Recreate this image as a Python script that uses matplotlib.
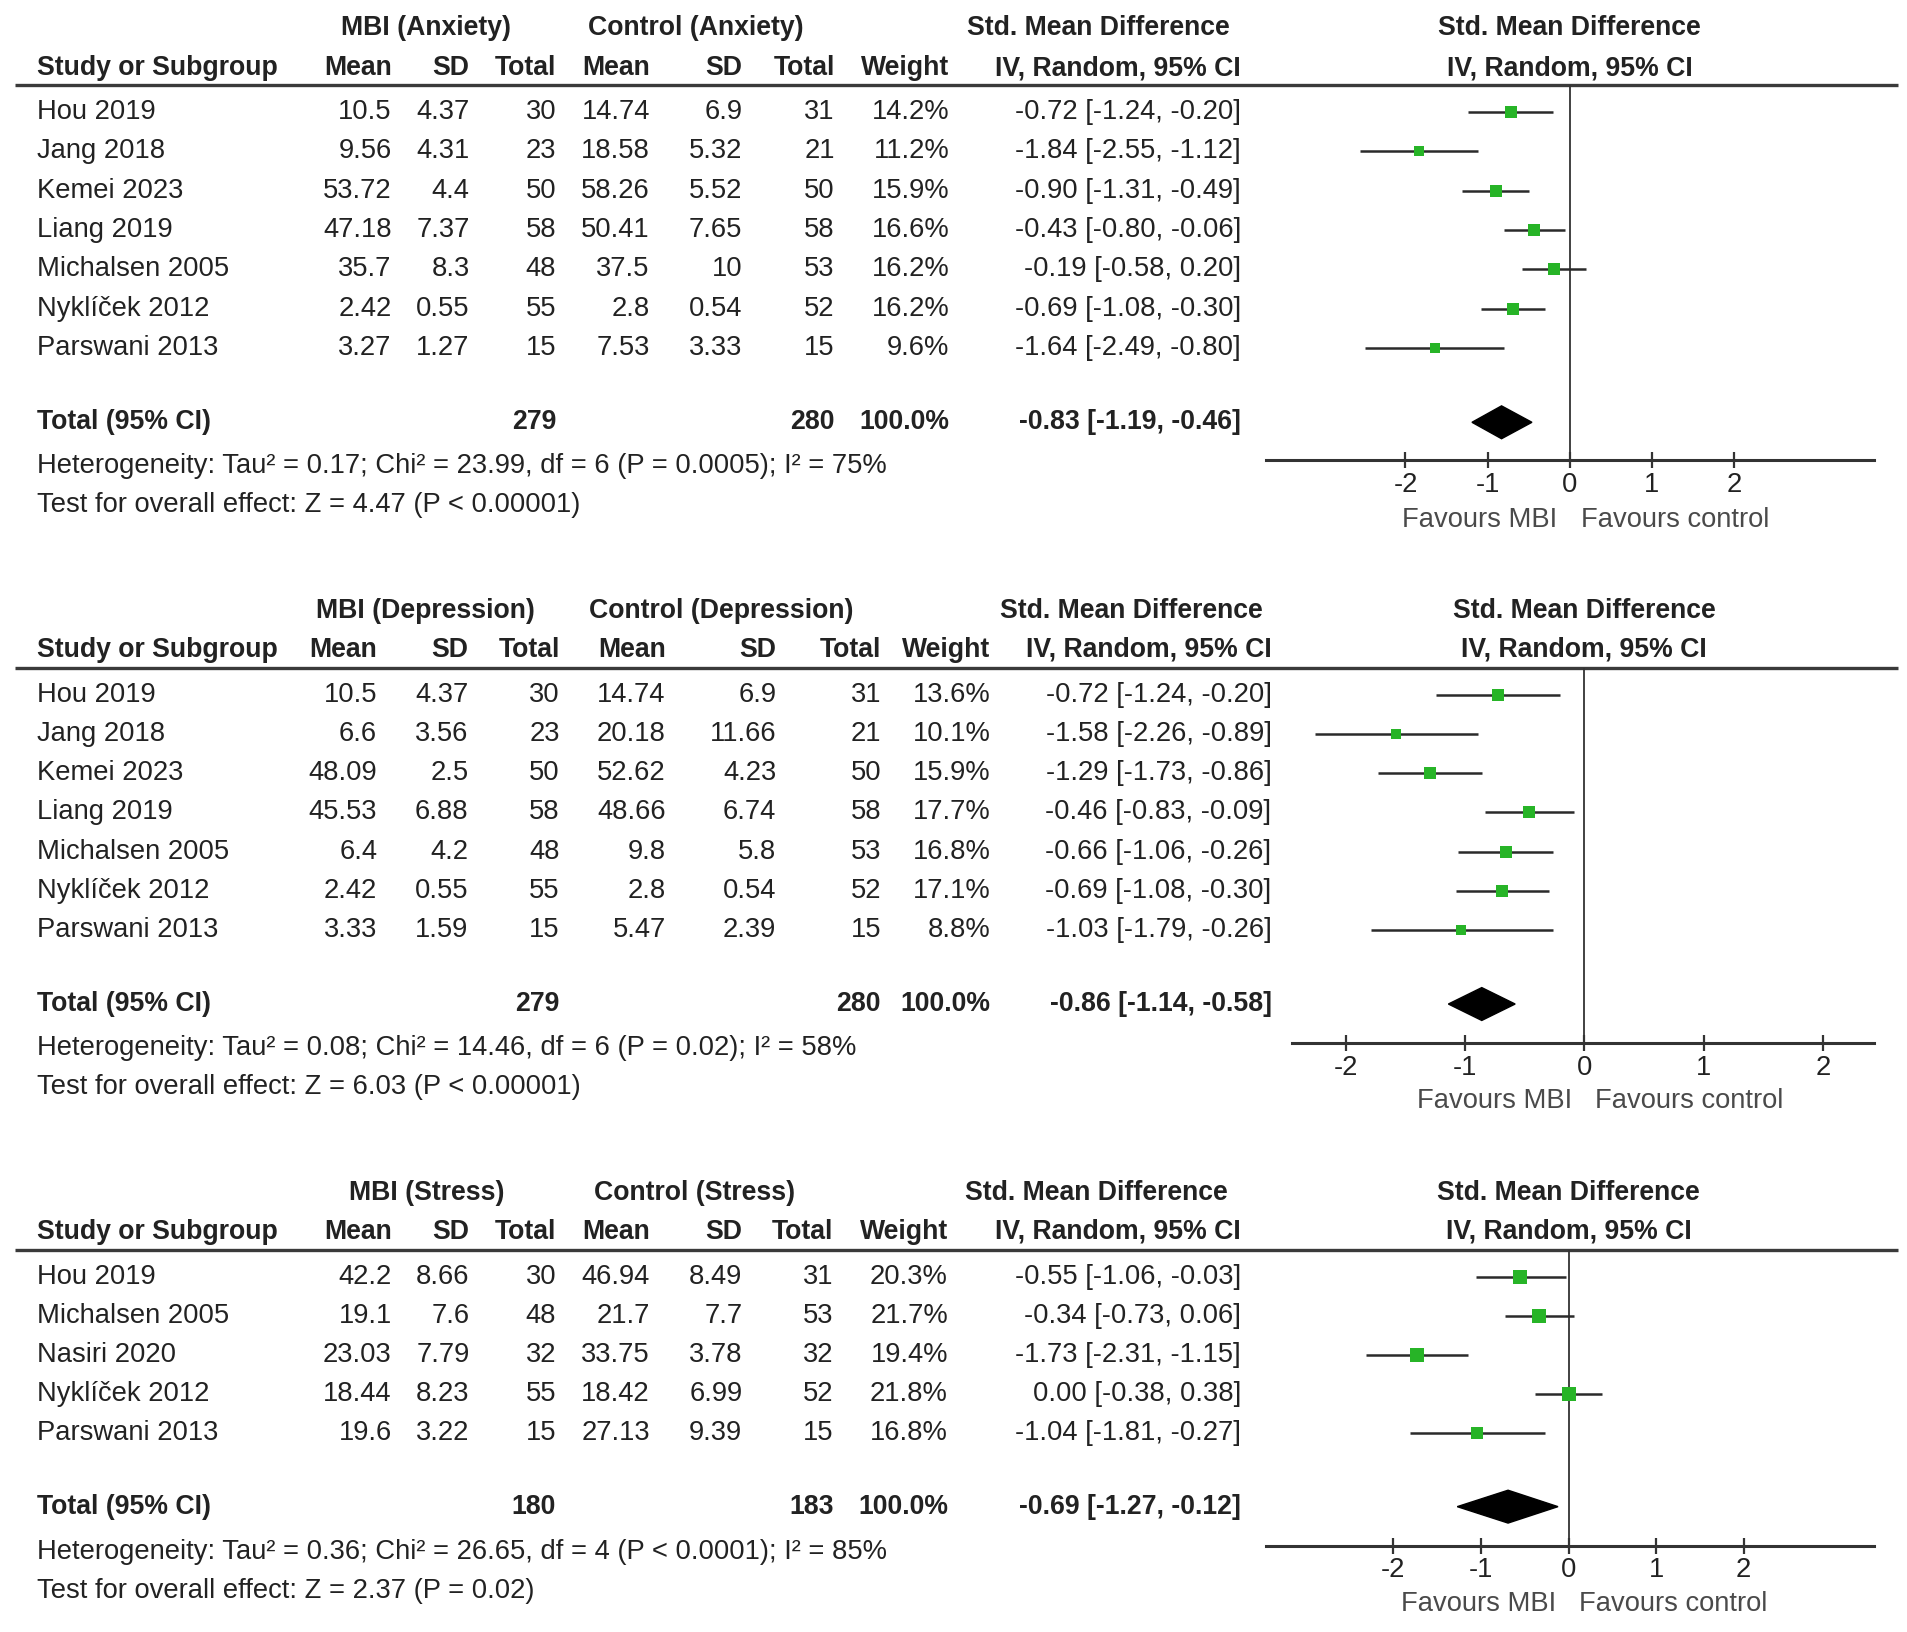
import numpy as np
import matplotlib.pyplot as plt

plt.rcParams['font.family'] = ['Liberation Sans', 'DejaVu Sans']

# layout units of the reference (scaled to the 1908x1632 output)
W, H = 1568, 1341
FS = 19.7
FS_BOLD = 19.2
TXT = '#222222'
GREEN = '#27b427'

# ---------------- data ----------------
# Anxiety
anx_studies = ['Hou 2019', 'Jang 2018', 'Kemei 2023', 'Liang 2019',
               'Michalsen 2005', 'Nyklíček 2012', 'Parswani 2013']
anx_mbi_mean = ['10.5', '9.56', '53.72', '47.18', '35.7', '2.42', '3.27']
anx_mbi_sd = ['4.37', '4.31', '4.4', '7.37', '8.3', '0.55', '1.27']
anx_mbi_n = [30, 23, 50, 58, 48, 55, 15]
anx_ctl_mean = ['14.74', '18.58', '58.26', '50.41', '37.5', '2.8', '7.53']
anx_ctl_sd = ['6.9', '5.32', '5.52', '7.65', '10', '0.54', '3.33']
anx_ctl_n = [31, 21, 50, 58, 53, 52, 15]
anx_weight = [14.2, 11.2, 15.9, 16.6, 16.2, 16.2, 9.6]
anx_smd = [-0.72, -1.84, -0.90, -0.43, -0.19, -0.69, -1.64]
anx_lo = [-1.24, -2.55, -1.31, -0.80, -0.58, -1.08, -2.49]
anx_hi = [-0.20, -1.12, -0.49, -0.06, 0.20, -0.30, -0.80]
anx_total = (-0.83, -1.19, -0.46)
anx_het = 'Heterogeneity: Tau² = 0.17; Chi² = 23.99, df = 6 (P = 0.0005); I² = 75%'
anx_test = 'Test for overall effect: Z = 4.47 (P < 0.00001)'

# Depression
dep_studies = ['Hou 2019', 'Jang 2018', 'Kemei 2023', 'Liang 2019',
               'Michalsen 2005', 'Nyklíček 2012', 'Parswani 2013']
dep_mbi_mean = ['10.5', '6.6', '48.09', '45.53', '6.4', '2.42', '3.33']
dep_mbi_sd = ['4.37', '3.56', '2.5', '6.88', '4.2', '0.55', '1.59']
dep_mbi_n = [30, 23, 50, 58, 48, 55, 15]
dep_ctl_mean = ['14.74', '20.18', '52.62', '48.66', '9.8', '2.8', '5.47']
dep_ctl_sd = ['6.9', '11.66', '4.23', '6.74', '5.8', '0.54', '2.39']
dep_ctl_n = [31, 21, 50, 58, 53, 52, 15]
dep_weight = [13.6, 10.1, 15.9, 17.7, 16.8, 17.1, 8.8]
dep_smd = [-0.72, -1.58, -1.29, -0.46, -0.66, -0.69, -1.03]
dep_lo = [-1.24, -2.26, -1.73, -0.83, -1.06, -1.08, -1.79]
dep_hi = [-0.20, -0.89, -0.86, -0.09, -0.26, -0.30, -0.26]
dep_total = (-0.86, -1.14, -0.58)
dep_het = 'Heterogeneity: Tau² = 0.08; Chi² = 14.46, df = 6 (P = 0.02); I² = 58%'
dep_test = 'Test for overall effect: Z = 6.03 (P < 0.00001)'

# Stress
str_studies = ['Hou 2019', 'Michalsen 2005', 'Nasiri 2020',
               'Nyklíček 2012', 'Parswani 2013']
str_mbi_mean = ['42.2', '19.1', '23.03', '18.44', '19.6']
str_mbi_sd = ['8.66', '7.6', '7.79', '8.23', '3.22']
str_mbi_n = [30, 48, 32, 55, 15]
str_ctl_mean = ['46.94', '21.7', '33.75', '18.42', '27.13']
str_ctl_sd = ['8.49', '7.7', '3.78', '6.99', '9.39']
str_ctl_n = [31, 53, 32, 52, 15]
str_weight = [20.3, 21.7, 19.4, 21.8, 16.8]
str_smd = [-0.55, -0.34, -1.73, 0.00, -1.04]
str_lo = [-1.06, -0.73, -2.31, -0.38, -1.81]
str_hi = [-0.03, 0.06, -1.15, 0.38, -0.27]
str_total = (-0.69, -1.27, -0.12)
str_het = 'Heterogeneity: Tau² = 0.36; Chi² = 26.65, df = 4 (P < 0.0001); I² = 85%'
str_test = 'Test for overall effect: Z = 2.37 (P = 0.02)'

xticks = [-2, -1, 0, 1, 2]

# ---------------- panels ----------------
panels = [
    dict(label='Anxiety', studies=anx_studies, m1=anx_mbi_mean, s1=anx_mbi_sd, n1=anx_mbi_n,
         m2=anx_ctl_mean, s2=anx_ctl_sd, n2=anx_ctl_n, w=anx_weight,
         smd=anx_smd, lo=anx_lo, hi=anx_hi, tot=anx_total, het=anx_het, test=anx_test,
         yg=23, yh=56, yr=70, y0=92, dy=32.3, yt=347, yhet=383, ytest=415, yax=378, yfav=427,
         cols=[322, 386, 457, 534, 610, 686, 780, 1020], groups=[350, 572, 903],
         fx0=1040, fx1=1540, zero=1290, ppu=67.5),
    dict(label='Depression', studies=dep_studies, m1=dep_mbi_mean, s1=dep_mbi_sd, n1=dep_mbi_n,
         m2=dep_ctl_mean, s2=dep_ctl_sd, n2=dep_ctl_n, w=dep_weight,
         smd=dep_smd, lo=dep_lo, hi=dep_hi, tot=dep_total, het=dep_het, test=dep_test,
         yg=502, yh=534, yr=549, y0=571, dy=32.2, yt=825, yhet=861, ytest=893, yax=857, yfav=905,
         cols=[310, 385, 460, 547, 638, 724, 814, 1045], groups=[350, 593, 930],
         fx0=1062, fx1=1540, zero=1302, ppu=98.0),
    dict(label='Stress', studies=str_studies, m1=str_mbi_mean, s1=str_mbi_sd, n1=str_mbi_n,
         m2=str_ctl_mean, s2=str_ctl_sd, n2=str_ctl_n, w=str_weight,
         smd=str_smd, lo=str_lo, hi=str_hi, tot=str_total, het=str_het, test=str_test,
         yg=980, yh=1012, yr=1027, y0=1049, dy=32.1, yt=1238, yhet=1275, ytest=1307, yax=1270, yfav=1318,
         cols=[322, 386, 457, 534, 610, 685, 779, 1020], groups=[351, 571, 901],
         fx0=1040, fx1=1540, zero=1289, ppu=72.0),
]

fig = plt.figure(figsize=(19.08, 16.32), dpi=100)
bg = fig.add_axes([0, 0, 1, 1])
bg.set_xlim(0, W)
bg.set_ylim(H, 0)
bg.axis('off')


def put(x, y, s, ha='right', bold=False, color=TXT):
    bg.text(x, y, s, ha=ha, va='center', fontsize=FS_BOLD if bold else FS, color=color,
            fontweight='bold' if bold else 'normal')


def fmt_ci(e, l, h):
    return f'{e:.2f} [{l:.2f}, {h:.2f}]'


for p in panels:
    c = p['cols']
    # headers
    put(p['groups'][0], p['yg'], f"MBI ({p['label']})", ha='center', bold=True)
    put(p['groups'][1], p['yg'], f"Control ({p['label']})", ha='center', bold=True)
    put(p['groups'][2], p['yg'], 'Std. Mean Difference', ha='center', bold=True)
    put(p['zero'], p['yg'], 'Std. Mean Difference', ha='center', bold=True)
    put(30, p['yh'], 'Study or Subgroup', ha='left', bold=True)
    for x, s in zip(c, ['Mean', 'SD', 'Total', 'Mean', 'SD', 'Total', 'Weight',
                        'IV, Random, 95% CI']):
        put(x, p['yh'], s, bold=True)
    put(p['zero'], p['yh'], 'IV, Random, 95% CI', ha='center', bold=True)
    bg.plot([12, 1560], [p['yr'], p['yr']], color='#3a3a3a', lw=2.4, solid_capstyle='butt')

    # study rows
    for i, st in enumerate(p['studies']):
        y = p['y0'] + p['dy'] * i
        put(30, y, st, ha='left')
        vals = [p['m1'][i], p['s1'][i], str(p['n1'][i]), p['m2'][i], p['s2'][i],
                str(p['n2'][i]), f"{p['w'][i]:.1f}%",
                fmt_ci(p['smd'][i], p['lo'][i], p['hi'][i])]
        for x, s in zip(c, vals):
            put(x, y, s)

    # total row
    put(30, p['yt'], 'Total (95% CI)', ha='left', bold=True)
    put(c[2], p['yt'], str(sum(p['n1'])), bold=True)
    put(c[5], p['yt'], str(sum(p['n2'])), bold=True)
    put(c[6], p['yt'], '100.0%', bold=True)
    put(c[7], p['yt'], fmt_ci(*p['tot']), bold=True)
    put(30, p['yhet'], p['het'], ha='left')
    put(30, p['ytest'], p['test'], ha='left')

    # forest plot
    ax = fig.add_axes([p['fx0'] / W, 1 - p['yax'] / H,
                       (p['fx1'] - p['fx0']) / W, (p['yax'] - p['yr']) / H])
    ax.set_xlim((p['fx0'] - p['zero']) / p['ppu'], (p['fx1'] - p['zero']) / p['ppu'])
    ax.set_ylim((p['yax'] - p['y0']) / p['dy'], (p['yr'] - p['y0']) / p['dy'])
    ax.patch.set_alpha(0)
    for s in ['top', 'left', 'right']:
        ax.spines[s].set_visible(False)
    ax.spines['bottom'].set_linewidth(2.2)
    ax.spines['bottom'].set_color('#333333')
    ax.set_yticks([])
    ax.set_xticks(xticks)
    ax.set_xticklabels([str(t) for t in xticks])
    ax.tick_params(axis='x', direction='inout', length=11, width=1.6, color='#333333',
                   pad=3, labelsize=FS, labelcolor=TXT)
    ax.axvline(0, color='#333333', lw=1.3)

    rows = np.arange(len(p['studies']))
    ax.hlines(rows, p['lo'], p['hi'], color='#2a2a2a', lw=1.8, zorder=2)
    for r, e, w in zip(rows, p['smd'], p['w']):
        # square size grows with the study weight
        ax.plot(e, r, marker='s', ms=2.2 * np.sqrt(w), color=GREEN, mew=0, zorder=3)
    yt = (p['yt'] - p['y0']) / p['dy']
    hh = 13.5 / p['dy']
    e, l, h = p['tot']
    ax.fill([l, e, h, e], [yt, yt - hh, yt, yt + hh], color='black', zorder=3)

    put(p['zero'] - 10, p['yfav'], 'Favours MBI', ha='right', color='#4a4a4a')
    put(p['zero'] + 9, p['yfav'], 'Favours control', ha='left', color='#4a4a4a')

fig.savefig('out.png', dpi=100)
